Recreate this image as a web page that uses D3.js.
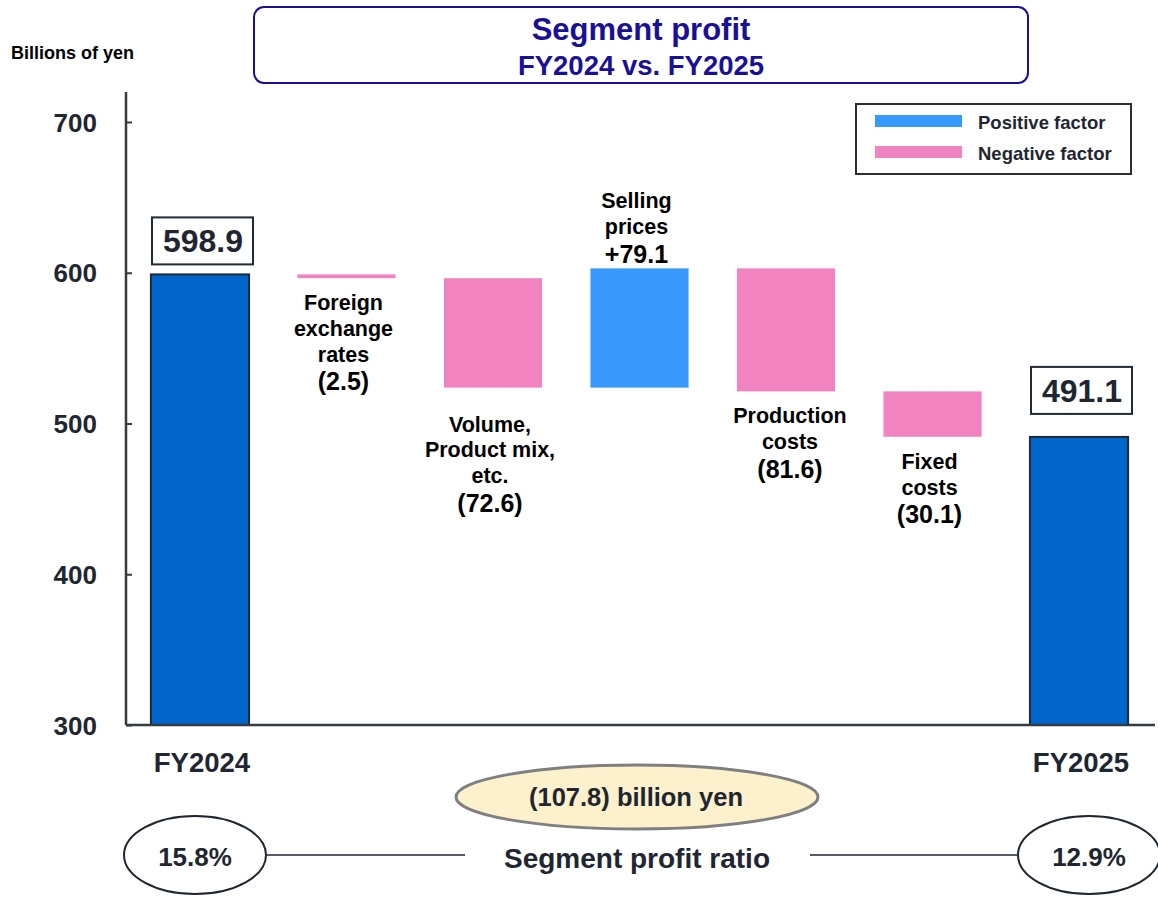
<!DOCTYPE html>
<html>
<head>
<meta charset="utf-8">
<script src="https://cdn.jsdelivr.net/npm/d3@7"></script>
<style>
  body { margin: 0; background: #fff; }
  svg { display: block; font-family: "Liberation Sans", Arial, sans-serif; font-weight: bold; }
</style>
</head>
<body>
<script>
// waterfall data, billions of yen
const categories = ["FY2024", "Foreign exchange rates", "Volume, Product mix, etc.", "Selling prices", "Production costs", "Fixed costs", "FY2025"];
const kinds = ["total", "delta", "delta", "delta", "delta", "delta", "total"];
const values = [598.9, -2.5, -72.6, 79.1, -81.6, -30.1, 491.1];
const labelLines = [
  [],
  ["Foreign", "exchange", "rates"],
  ["Volume,", "Product mix,", "etc."],
  ["Selling", "prices"],
  ["Production", "costs"],
  ["Fixed", "costs"],
  []
];
const valueLabels = ["598.9", "(2.5)", "(72.6)", "+79.1", "(81.6)", "(30.1)", "491.1"];
const yTicks = [300, 400, 500, 600, 700];
const profitRatio = ["15.8%", "12.9%"];
const totalChange = "(107.8) billion yen";

const W = 1158, H = 899;
const ink = "#1f2631";
const colTotal = "#0066cc", colPos = "#3899fd", colNeg = "#f083c0";

const svg = d3.select("body").append("svg").attr("width", W).attr("height", H);

const x = d3.scaleBand().domain(categories).range([126, 1153]).paddingInner(0.33).paddingOuter(0.17);
const y = d3.scaleLinear().domain([300, 700]).range([725, 122]);

// running totals for the waterfall
let run = 0;
const bars = categories.map((c, i) => {
  let lo, hi;
  if (kinds[i] === "total") { lo = 300; hi = values[i]; run = values[i]; }
  else { const s = run; run += values[i]; lo = Math.min(s, run); hi = Math.max(s, run); }
  return { c, i, lo, hi, kind: kinds[i], v: values[i] };
});

// title box
svg.append("rect").attr("x", 254).attr("y", 7).attr("width", 774).attr("height", 76).attr("rx", 10)
  .attr("fill", "#fff").attr("stroke", "#1a0f9a").attr("stroke-width", 2);
svg.append("text").attr("x", 641).attr("y", 40).attr("text-anchor", "middle")
  .attr("font-size", 31).attr("fill", "#1a1096").text("Segment profit");
svg.append("text").attr("x", 641).attr("y", 75).attr("text-anchor", "middle")
  .attr("font-size", 27.5).attr("fill", "#1a1096").text("FY2024 vs. FY2025");

svg.append("text").attr("x", 11).attr("y", 59).attr("font-size", 18).attr("fill", "#000").text("Billions of yen");

// legend
const lg = svg.append("g");
lg.append("rect").attr("x", 856).attr("y", 104).attr("width", 275).attr("height", 70)
  .attr("fill", "#fff").attr("stroke", "#2a2f36").attr("stroke-width", 2);
[["Positive factor", colPos], ["Negative factor", colNeg]].forEach(([t, c], k) => {
  lg.append("rect").attr("x", 875).attr("y", 115 + k * 31).attr("width", 87).attr("height", 12).attr("fill", c);
  lg.append("text").attr("x", 978).attr("y", 129 + k * 31).attr("font-size", 18.5).attr("fill", ink).text(t);
});

// bars
svg.selectAll("rect.bar").data(bars).join("rect").attr("class", "bar")
  .attr("x", d => x(d.c)).attr("width", x.bandwidth())
  .attr("y", d => y(d.hi)).attr("height", d => Math.max(3, y(d.lo) - y(d.hi)))
  .attr("fill", d => d.kind === "total" ? colTotal : (d.v > 0 ? colPos : colNeg))
  .attr("stroke", d => d.kind === "total" ? "#1f2a36" : "none").attr("stroke-width", 2);

// axes
const yAxis = svg.append("g").attr("transform", "translate(126,0)")
  .call(d3.axisRight(y).tickValues(yTicks).tickSize(6).tickFormat(d3.format("d")));
yAxis.select(".domain").attr("d", "M0,92V725").attr("stroke", "#333a42").attr("stroke-width", 2.5);
yAxis.selectAll(".tick line").attr("stroke", "#333a42").attr("stroke-width", 2);
yAxis.selectAll(".tick text").attr("x", -29).attr("dy", "9px").attr("text-anchor", "end").attr("font-size", 26)
  .attr("font-family", "Liberation Sans, Arial, sans-serif").attr("font-weight", "bold").attr("fill", ink);
svg.append("line").attr("x1", 126).attr("x2", 1155).attr("y1", y(300)).attr("y2", y(300))
  .attr("stroke", "#333a42").attr("stroke-width", 2.5);

// total labels in boxes + category names
const boxGap = { FY2024: 10, FY2025: 23 };
bars.filter(d => d.kind === "total").forEach(d => {
  const cx = x(d.c) + x.bandwidth() / 2;
  const bottom = y(d.hi) - boxGap[d.c];
  svg.append("rect").attr("x", cx - 48).attr("y", bottom - 47).attr("width", 101).attr("height", 47)
    .attr("fill", "#fff").attr("stroke", "#1f2a36").attr("stroke-width", 2);
  svg.append("text").attr("x", cx + 3).attr("y", bottom - 12).attr("text-anchor", "middle")
    .attr("font-size", 32).attr("fill", ink).text(valueLabels[d.i]);
  svg.append("text").attr("x", cx + 2).attr("y", 772).attr("text-anchor", "middle")
    .attr("font-size", 27.5).attr("fill", ink).text(d.c);
});

// factor labels
const gapBelow = { "Volume, Product mix, etc.": 44 };
const shiftX = { "Production costs": 7 };
bars.filter(d => d.kind === "delta").forEach(d => {
  const cx = x(d.c) + x.bandwidth() / 2 - 3 + (shiftX[d.c] || 0);
  const lines = labelLines[d.i];
  const t = svg.append("text").attr("text-anchor", "middle").attr("fill", "#000");
  let y0;
  if (d.v > 0) y0 = y(d.hi) - 6.5 - 28 - (lines.length - 1) * 25.5;
  else y0 = y(d.lo) + (gapBelow[d.c] || 32);
  lines.forEach((l, k) => t.append("tspan").attr("x", cx).attr("y", y0 + k * 25.8).attr("font-size", 21.5).text(l));
  t.append("tspan").attr("x", cx).attr("y", y0 + (lines.length - 1) * 25.8 + 28.5)
    .attr("font-size", 25).text(valueLabels[d.i]);
});

// total change ellipse
svg.append("ellipse").attr("cx", 637).attr("cy", 797).attr("rx", 181).attr("ry", 32)
  .attr("fill", "#fdf0cc").attr("stroke", "#7f7f7f").attr("stroke-width", 3);
svg.append("text").attr("x", 636).attr("y", 806).attr("text-anchor", "middle")
  .attr("font-size", 25.5).attr("fill", ink).text(totalChange);

// profit ratio row
svg.append("line").attr("x1", 267).attr("x2", 465).attr("y1", 855).attr("y2", 855).attr("stroke", ink).attr("stroke-width", 1.5);
svg.append("line").attr("x1", 810).attr("x2", 1020).attr("y1", 855).attr("y2", 855).attr("stroke", ink).attr("stroke-width", 1.5);
svg.append("text").attr("x", 637).attr("y", 868).attr("text-anchor", "middle")
  .attr("font-size", 28).attr("fill", ink).text("Segment profit ratio");
[[195, profitRatio[0]], [1089, profitRatio[1]]].forEach(([cx, t]) => {
  svg.append("ellipse").attr("cx", cx).attr("cy", 855).attr("rx", 71).attr("ry", 39)
    .attr("fill", "#fff").attr("stroke", ink).attr("stroke-width", 2);
  svg.append("text").attr("x", cx).attr("y", 866).attr("text-anchor", "middle")
    .attr("font-size", 26).attr("fill", ink).text(t);
});
</script>
</body>
</html>
